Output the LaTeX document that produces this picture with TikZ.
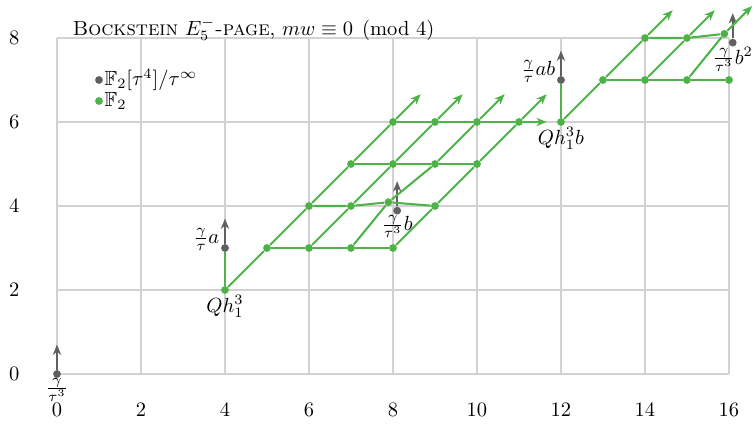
\documentclass[tikz,border=0pt]{standalone}
\usepackage{amsmath,amssymb}
\usetikzlibrary{positioning,arrows.meta}
\definecolor{ssgreen}{RGB}{77,178,72}
\definecolor{ssgray}{RGB}{96,96,96}
\tikzset{
	gdot/.style={circle, fill=ssgreen, inner sep=0pt, minimum size=3.8pt},
	kdot/.style={circle, fill=ssgray, inner sep=0pt, minimum size=3.8pt},
	gline/.style={ssgreen, line width=1pt},
	garrow/.style={gline, -{Stealth[length=5pt, width=4pt, inset=1.5pt]}},
	karrow/.style={ssgray, line width=1.2pt, -{Stealth[length=5pt, width=4pt, inset=1.5pt]}},
	gridline/.style={gray!35, line width=1.2pt},
	classlabel/.style={inner sep=1pt}
}
\begin{document}
\begin{tikzpicture}[x=0.72cm, y=0.72cm]
	\useasboundingbox (-1.357,-1.333) rectangle (16.62,8.905);
	% grid and axis numbers
	\draw[gridline, step=2] (0,0) grid (16,8);
	\foreach \x in {0,2,...,16} \node (xl\x) at (\x,-0.86) {$\x$};
	\foreach \y in {0,2,...,8} \node (yl\y) at (-1.02,\y) {$\y$};
	\node[anchor=base west, inner sep=0pt] (title) at (0.36,8.07)
		{\textsc{Bockstein} $E_5^-$\textsc{-page}, $mw \equiv 0 \pmod 4$};
	% legend
	\node[kdot] (legk) at (1,7) {};
	\node[gdot] (legg) at (1,6.5) {};
	\node[classlabel, right=-0.5pt of legk] (legktext) {$\mathbb{F}_2[\tau^4]/\tau^\infty$};
	\node[classlabel, right=-0.5pt of legg] (leggtext) {$\mathbb{F}_2$};
	% gray classes
	\node[kdot] (k00) at (0,0) {};
	\node[kdot] (k43) at (4,3) {};
	\node[kdot] (k84) at (8.1,3.89) {};
	\node[kdot] (k127) at (12,7) {};
	\node[kdot] (k168) at (16.09,7.89) {};
	% green classes, lower block
	\node[gdot] (g42) at (4,2) {};
	\node[gdot] (g53) at (5,3) {};
	\node[gdot] (g63) at (6,3) {};
	\node[gdot] (g73) at (7,3) {};
	\node[gdot] (g83) at (8,3) {};
	\node[gdot] (g64) at (6,4) {};
	\node[gdot] (g74) at (7,4) {};
	\node[gdot] (g84) at (7.89,4.09) {};
	\node[gdot] (g94) at (9,4) {};
	\node[gdot] (g75) at (7,5) {};
	\node[gdot] (g85) at (8,5) {};
	\node[gdot] (g95) at (9,5) {};
	\node[gdot] (g105) at (10,5) {};
	\node[gdot] (g86) at (8,6) {};
	\node[gdot] (g96) at (9,6) {};
	\node[gdot] (g106) at (10,6) {};
	\node[gdot] (g116) at (11,6) {};
	% green classes, upper block
	\node[gdot] (g126) at (12,6) {};
	\node[gdot] (g137) at (13,7) {};
	\node[gdot] (g147) at (14,7) {};
	\node[gdot] (g157) at (15,7) {};
	\node[gdot] (g167) at (16,7) {};
	\node[gdot] (g148) at (14,8) {};
	\node[gdot] (g158) at (15,8) {};
	\node[gdot] (g168) at (15.89,8.1) {};
	% labels
	\node[classlabel, below=-1pt of k00] (lk00) {$\frac{\gamma}{\tau^3}$};
	\node[classlabel, left=-0.5pt of k43, yshift=4pt] (lk43) {$\frac{\gamma}{\tau}a$};
	\node[classlabel, below=-1pt of k84] (lk84) {$\frac{\gamma}{\tau^3}b$};
	\node[classlabel, left=-0.5pt of k127, yshift=4pt] (lk127) {$\frac{\gamma}{\tau}ab$};
	\node[classlabel, below=-1pt of k168] (lk168) {$\frac{\gamma}{\tau^3}b^2$};
	\node[classlabel, below=-0.5pt of g42] (lg42) {$Qh_1^3$};
	\node[classlabel, below=-0.5pt of g126] (lg126) {$Qh_1^3b$};
	% gray towers
	\draw[karrow] (k00) -- ++(0,0.7);
	\draw[karrow] (k43) -- ++(0,0.7);
	\draw[karrow] (k84) -- ++(0,0.7);
	\draw[karrow] (k127) -- ++(0,0.7);
	\draw[karrow] (k168) -- ++(0,0.7);
	% lower block: verticals, diagonals, rows
	\draw[gline] (g42) -- (k43);
	\draw[gline] (g42) -- (g53) -- (g64) -- (g75) -- (g86);
	\draw[gline] (g63) -- (g74) -- (g85) -- (g96);
	\draw[gline] (g73) -- (g84) -- (g95) -- (g106);
	\draw[gline] (g83) -- (g94) -- (g105) -- (g116);
	\draw[garrow] (g86) -- ++(0.66,0.66);
	\draw[garrow] (g96) -- ++(0.66,0.66);
	\draw[garrow] (g106) -- ++(0.66,0.66);
	\draw[garrow] (g116) -- ++(0.66,0.66);
	\draw[gline] (g53) -- (g63) -- (g73) -- (g83);
	\draw[gline] (g64) -- (g74) -- (g84) -- (g94);
	\draw[gline] (g75) -- (g85) -- (g95) -- (g105);
	\draw[gline] (g86) -- (g96) -- (g106) -- (g116);
	\draw[garrow] (g116) -- ++(0.66,0);
	% upper block
	\draw[gline] (g126) -- (k127);
	\draw[gline] (g126) -- (g137) -- (g148);
	\draw[gline] (g147) -- (g158);
	\draw[gline] (g157) -- (g168);
	\draw[garrow] (g148) -- ++(0.66,0.66);
	\draw[garrow] (g158) -- ++(0.66,0.66);
	\draw[garrow] (g168) -- ++(0.66,0.66);
	\draw[gline] (g137) -- (g147) -- (g157) -- (g167);
	\draw[gline] (g148) -- (g158) -- (g168);
\end{tikzpicture}
\end{document}
